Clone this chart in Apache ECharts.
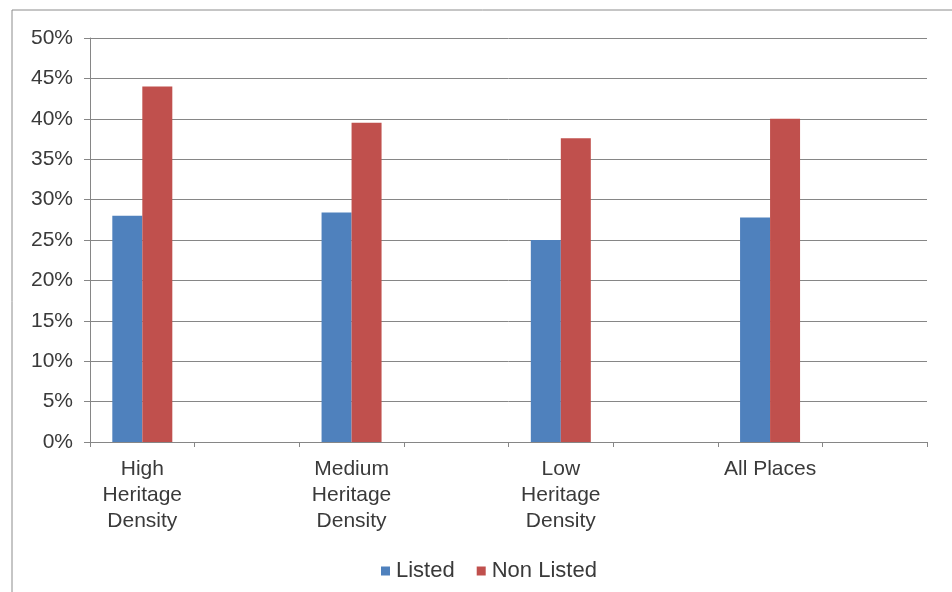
<!DOCTYPE html>
<html>
<head>
<meta charset="utf-8">
<script src="https://cdn.jsdelivr.net/npm/echarts@6/dist/echarts.min.js"></script>
<style>
  html, body { margin: 0; padding: 0; background: #fff; }
  #chart { width: 952px; height: 592px; }
</style>
</head>
<body>
<div id="chart"></div>
<script>
// Categories (empty slots between groups, as in the original Excel chart)
const categories = ['High\nHeritage\nDensity', '', 'Medium\nHeritage\nDensity', '', 'Low\nHeritage\nDensity', '', 'All Places', ''];
const groupIndex = [0, 2, 4, 6];
// Values (%)
const listed = [28.0, 28.4, 25.0, 27.8];
const nonListed = [44.0, 39.5, 37.6, 40.0];
// Y tick settings
const yMin = 0, yMax = 50, yStep = 5;

function spread(vals) {
  const out = categories.map(() => '-');
  groupIndex.forEach((ci, i) => { out[ci] = vals[i]; });
  return out;
}

const FONT = 'Liberation Sans, Arial, sans-serif';
const TXT = '#3a3a3a';
const GRAY = '#868686';

const chart = echarts.init(document.getElementById('chart'), null, { renderer: 'canvas' });
chart.setOption({
  animation: false,
  backgroundColor: '#fff',
  graphic: [{
    type: 'rect',
    shape: { x: 12, y: 10, width: 960, height: 620 },
    style: { fill: 'none', stroke: '#8c8c8c', lineWidth: 1 },
    silent: true
  }],
  grid: { left: 90, right: 25, top: 38, bottom: 150, containLabel: false },
  legend: {
    top: 555,
    left: 376,
    icon: 'rect',
    itemWidth: 9,
    itemHeight: 9,
    itemGap: 22,
    textStyle: { fontFamily: FONT, fontSize: 22, color: TXT, padding: [0, 0, 0, 1] },
    data: ['Listed', 'Non Listed']
  },
  xAxis: {
    type: 'category',
    data: categories,
    boundaryGap: true,
    axisLine: { lineStyle: { color: GRAY, width: 1 } },
    axisTick: { show: true, length: 5, lineStyle: { color: GRAY } },
    axisLabel: {
      interval: 0,
      margin: 14,
      fontFamily: FONT,
      fontSize: 21,
      lineHeight: 26,
      color: TXT
    },
    splitLine: { show: false }
  },
  yAxis: {
    type: 'value',
    min: yMin,
    max: yMax,
    interval: yStep,
    axisLine: { show: true, lineStyle: { color: GRAY, width: 1 } },
    axisTick: { show: true, length: 6, lineStyle: { color: GRAY } },
    axisLabel: {
      formatter: '{value}%',
      margin: 17,
      fontFamily: FONT,
      fontSize: 21,
      color: TXT
    },
    splitLine: { show: true, lineStyle: { color: GRAY, width: 1 } }
  },
  series: [
    {
      name: 'Listed',
      type: 'bar',
      data: spread(listed),
      barWidth: 30,
      barGap: '0%',
      itemStyle: { color: '#4F81BD' }
    },
    {
      name: 'Non Listed',
      type: 'bar',
      data: spread(nonListed),
      barWidth: 30,
      barGap: '0%',
      itemStyle: { color: '#C0504D' }
    }
  ]
});
</script>
</body>
</html>
